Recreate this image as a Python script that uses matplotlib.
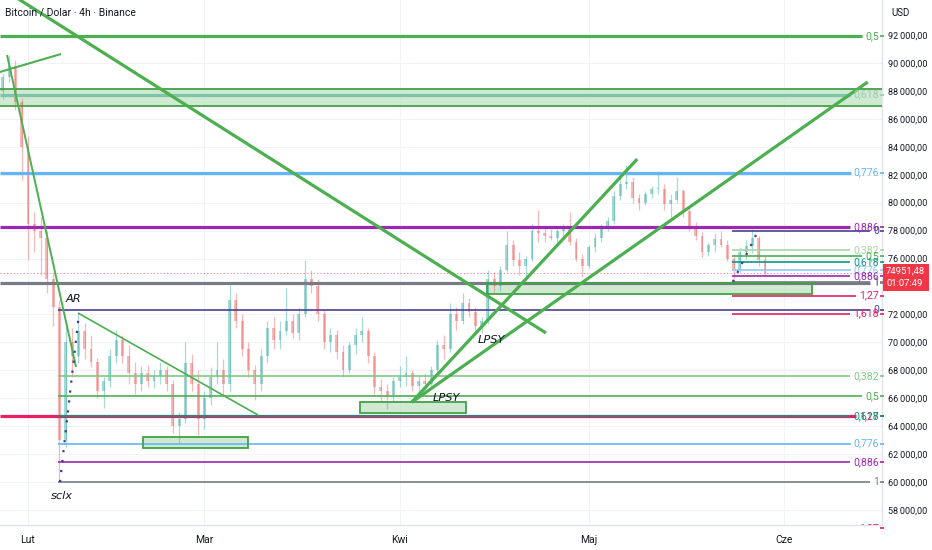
import numpy as np
import matplotlib
matplotlib.use("Agg")
import matplotlib.pyplot as plt
from matplotlib.patches import Rectangle
from matplotlib.transforms import blended_transform_factory
from matplotlib.ticker import FuncFormatter, FixedLocator

plt.rcParams['font.family'] = ['Liberation Sans Narrow', 'Roboto', 'DejaVu Sans']

# ------------------------------------------------------------------ data
# x = days since 1 Feb (daily candles), prices in thousands USD
days = list(range(-4, 118))
opens = [88.0, 89.0, 89.8, 87.2, 84.0, 78.5, 78.0, 77.5, 74.5, 72.5,
         63.0, 70.0, 69.0, 70.8, 69.5, 68.6, 66.5, 67.2, 69.0, 70.2,
         69.0, 67.8, 67.0, 67.8, 67.2, 67.6, 68.0, 67.0, 64.0, 64.5,
         68.5, 67.0, 64.5, 66.0, 67.5, 68.0, 67.0, 73.0, 71.5, 69.5,
         68.0, 67.0, 69.0, 71.0, 70.2, 70.8, 71.5, 70.7, 72.0, 74.5,
         74.0, 72.0, 70.0, 70.5, 69.3, 68.0, 69.8, 70.5, 70.8, 69.0,
         66.8, 66.5, 66.2, 67.2, 67.5, 67.8, 66.9, 67.2, 67.0, 68.0,
         69.8, 69.5, 72.0, 71.5, 72.8, 72.2, 71.2, 71.5, 74.5, 74.0,
         75.2, 77.0, 75.9, 75.5, 76.0, 78.0, 77.8, 77.6, 77.5, 78.0,
         78.2, 77.2, 76.0, 75.5, 76.8, 77.5, 78.3, 78.7, 80.5, 81.3,
         81.5, 80.3, 80.0, 80.6, 81.0, 81.0, 79.9, 80.2, 80.8, 79.4,
         78.3, 77.6, 76.5, 77.0, 77.4, 77.0, 76.0, 75.2, 76.5, 76.9,
         77.5, 75.9]
highs = [89.3, 90.6, 90.2, 87.5, 84.8, 79.3, 79.0, 78.0, 75.0, 73.0,
         71.2, 71.0, 72.1, 71.4, 70.5, 68.9, 67.5, 69.5, 70.9, 70.5,
         69.8, 68.6, 68.3, 68.4, 68.0, 68.6, 68.3, 67.3, 65.0, 70.0,
         69.2, 68.0, 66.5, 68.2, 70.0, 68.8, 74.1, 73.5, 72.0, 70.0,
         68.4, 69.5, 71.5, 71.8, 71.5, 73.9, 72.0, 72.5, 75.9, 75.2,
         74.5, 72.3, 71.0, 70.9, 69.8, 70.0, 71.0, 71.8, 71.0, 69.3,
         67.4, 67.0, 67.5, 68.3, 69.0, 68.0, 67.6, 67.8, 68.3, 70.2,
         70.5, 72.8, 72.5, 73.5, 73.2, 72.5, 71.8, 75.2, 75.0, 75.5,
         78.0, 77.3, 76.5, 76.2, 78.5, 79.5, 78.3, 78.1, 78.2, 78.5,
         79.3, 77.5, 76.3, 77.0, 77.8, 78.5, 79.0, 80.8, 81.8, 82.7,
         81.8, 80.6, 80.8, 81.2, 82.3, 81.3, 80.6, 81.8, 81.0, 79.6,
         78.6, 77.9, 77.2, 77.8, 78.0, 77.3, 76.3, 76.8, 77.3, 78.1,
         77.6, 76.2]
lows = [87.4, 88.6, 86.6, 81.6, 75.9, 76.5, 74.8, 73.5, 71.2, 60.0,
        62.5, 67.5, 68.5, 68.8, 68.2, 66.0, 65.3, 66.8, 68.5, 68.5,
        67.0, 66.3, 66.5, 66.8, 66.7, 67.0, 66.5, 63.5, 62.8, 64.2,
        66.5, 63.4, 63.8, 65.5, 67.0, 66.2, 66.5, 71.0, 69.0, 67.5,
        65.9, 66.5, 68.5, 69.5, 69.5, 70.5, 70.3, 70.2, 71.8, 73.5,
        71.5, 69.5, 69.3, 68.8, 67.5, 67.8, 69.2, 70.0, 68.5, 66.3,
        65.8, 65.2, 65.7, 66.8, 66.9, 66.5, 66.4, 66.6, 66.8, 67.8,
        68.8, 69.3, 70.9, 71.3, 71.8, 70.8, 70.7, 71.3, 73.6, 73.7,
        75.0, 75.5, 74.8, 74.7, 75.8, 77.2, 77.2, 77.3, 77.2, 77.5,
        77.0, 75.8, 74.7, 75.3, 76.5, 77.2, 78.0, 78.5, 80.2, 81.0,
        80.0, 79.5, 79.8, 80.3, 80.6, 79.5, 79.0, 80.0, 79.0, 78.0,
        77.3, 76.1, 76.2, 76.5, 76.8, 75.8, 74.5, 75.0, 76.0, 76.4,
        75.5, 74.8]
closes = [89.0, 89.8, 87.2, 84.0, 78.5, 78.0, 77.5, 74.5, 72.5, 63.0,
          70.0, 69.0, 70.8, 69.5, 68.6, 66.5, 67.2, 69.0, 70.2, 69.0,
          67.8, 67.0, 67.8, 67.2, 67.6, 68.0, 67.0, 64.0, 64.5, 68.5,
          67.0, 64.5, 66.0, 67.5, 68.0, 67.0, 73.0, 71.5, 69.5, 68.0,
          67.0, 69.0, 71.0, 70.2, 70.8, 71.5, 70.7, 72.0, 74.5, 74.0,
          72.0, 70.0, 70.5, 69.3, 68.0, 69.8, 70.5, 70.8, 69.0, 66.8,
          66.5, 66.2, 67.2, 67.5, 67.8, 66.9, 67.2, 67.0, 68.0, 69.8,
          69.5, 72.0, 71.5, 72.8, 72.2, 71.2, 71.5, 74.5, 74.0, 75.2,
          77.0, 75.9, 75.5, 76.0, 78.0, 77.8, 77.6, 77.5, 78.0, 78.2,
          77.2, 76.0, 75.5, 76.8, 77.5, 78.3, 78.7, 80.5, 81.3, 81.5,
          80.3, 80.0, 80.6, 81.0, 81.0, 79.9, 80.2, 80.8, 79.4, 78.3,
          77.6, 76.5, 77.0, 77.4, 77.0, 76.0, 75.2, 76.5, 76.9, 77.5,
          75.9, 74.95148]
last_price = 74.95148
countdown = "01:07:49"

month_ticks = [0, 28, 59, 89, 120]
month_labels = ["Lut", "Mar", "Kwi", "Maj", "Cze"]
price_ticks = [58, 60, 62, 64, 66, 68, 70, 72, 76, 78, 80, 82, 84, 86, 88, 90, 92]

# Fibonacci retracements: (price at 0, price at 1, start day, ratios, labels, colours, width)
big_fib = dict(p0=109.55, p1=74.25, start=-4.5,
               ratios=[0.5, 0.618, 0.776, 0.886, 1.0, 1.27],
               labels=["0,5", "0,618", "0,776", "0,886", "1", "1,27"],
               colors=["#4caf50", "#7ec4a8", "#64b5f6", "#9c27b0", "#787b86", "#e91e63"],
               label_colors=["#4caf50", "#9cc9b8", "#64b5f6", "#9c27b0", "#787b86", "#e91e63"],
               lw=2.3)
low_fib = dict(p0=72.3, p1=60.0, start=4.76,
               ratios=[0.0, 0.382, 0.5, 0.618, 0.776, 0.886, 1.0, 1.27],
               labels=["0", "0,382", "0,5", "0,618", "0,776", "0,886", "1", "1,27"],
               colors=["#4b3f91", "#81c784", "#4caf50", "#089981", "#64b5f6", "#9c27b0", "#787b86", "#e91e63"],
               label_colors=["#4b3f91", "#81c784", "#4caf50", "#089981", "#64b5f6", "#9c27b0", "#787b86", "#e91e63"],
               lw=1.2)
small_fib = dict(p0=78.0, p1=74.33, start=111.75,
                 ratios=[0.0, 0.382, 0.5, 0.618, 0.776, 0.886, 1.0, 1.27, 1.618],
                 labels=["0", "0,382", "0,5", "0,618", "0,776", "0,886", "1", "1,27", "1,618"],
                 colors=["#4b3f91", "#a5d6a7", "#4caf50", "#089981", "#90caf9", "#9c27b0", "#787b86", "#e91e63", "#e91e63"],
                 label_colors=["#4b3f91", "#a5d6a7", "#4caf50", "#089981", "#90caf9", "#9c27b0", "#787b86", "#e91e63", "#e91e63"],
                 lw=1.2)

# trend lines: (day0, day1), (price0, price1), width
trend_days = [(-2.5, 82.22), (-5.0, 5.24), (-3.33, 7.62), (7.94, 36.5), (60.9, 96.7), (60.9, 133.3)]
trend_prices = [(94.86, 70.67), (89.28, 90.64), (90.57, 68.24), (72.1, 64.8), (65.71, 83.12), (65.71, 88.64)]
trend_widths = [2.3, 1.5, 1.4, 1.2, 2.3, 2.3]

# dotted fib trend lines
dotted_days = [(5.08, 8.1), (111.9, 115.9)]
dotted_prices = [(60.0, 72.1), (74.33, 78.0)]

# zones: day0, day1, low, high
zone_days = [(18.25, 34.92), (52.7, 69.5), (72.86, 124.4), (-5.0, 140.0)]
zone_prices = [(62.44, 63.23), (64.94, 65.73), (73.46, 74.25), (86.92, 88.14)]

notes = ["AR", "sclx", "LPSY", "LPSY"]
note_days = [7.14, 5.4, 73.5, 66.35]
note_prices = [73.1, 59.0, 70.17, 66.02]

# ------------------------------------------------------------------ figure
fig = plt.figure(figsize=(9.32, 5.5), dpi=100)
fig.patch.set_facecolor("white")
ax = fig.add_axes([0, 25 / 550, 882 / 932, 525 / 550])
XMIN, XMAX = -4.444, 135.56
YMIN, YMAX = 56.926, 94.505
ax.set_xlim(XMIN, XMAX)
ax.set_ylim(YMIN, YMAX)

# grid & spines
ax.set_axisbelow(True)
ax.grid(True, color="#f0f3fa", lw=0.8)
for s in ["top", "left"]:
    ax.spines[s].set_visible(False)
for s in ["right", "bottom"]:
    ax.spines[s].set_color("#e0e3eb")
    ax.spines[s].set_linewidth(1.0)

ax.xaxis.set_major_locator(FixedLocator(month_ticks))
ax.set_xticklabels(month_labels)
ax.tick_params(axis="x", length=0, pad=7, labelsize=7.5, labelcolor="#131722")
ax.yaxis.tick_right()
ax.yaxis.set_major_locator(FixedLocator(price_ticks))
ax.yaxis.set_major_formatter(FuncFormatter(
    lambda v, p: f"{int(round(v * 1000)):,}".replace(",", "\u2009") + ",00"))
ax.tick_params(axis="y", length=0, pad=4.5, labelsize=6.5, labelcolor="#131722")

# zones
for (d0, d1), (lo, hi) in zip(zone_days, zone_prices):
    ax.add_patch(Rectangle((d0, lo), d1 - d0, hi - lo, facecolor="#c8e6c9", alpha=0.85,
                           edgecolor="none", zorder=1))
    ax.add_patch(Rectangle((d0, lo), d1 - d0, hi - lo, facecolor="none",
                           edgecolor="#43a047", lw=1.3, zorder=3.5))

# candles
up_c, dn_c = "#26a69a", "#ef5350"
cols = [up_c if c >= o else dn_c for o, c in zip(opens, closes)]
ax.vlines(days, lows, highs, colors=cols, lw=0.9, alpha=0.4, zorder=2)
ax.bar(days, [c - o if abs(c - o) > 0.05 else 0.05 for o, c in zip(opens, closes)],
       bottom=opens, width=0.45, color=cols, alpha=0.4, lw=0, zorder=2)

# current price dotted line
ax.axhline(last_price, color="#f23645", lw=0.8, ls=(0, (1, 2)), alpha=0.6, zorder=1.5)

# fib levels: labels first, then lines ending before the label
LABEL_X = XMIN + (879 / 882) * (XMAX - XMIN)
mark_tr = blended_transform_factory(ax.transAxes, ax.transData)
fib_items = []
for fib in (big_fib, low_fib, small_fib):
    for r, lab, col, lcol in zip(fib["ratios"], fib["labels"], fib["colors"], fib["label_colors"]):
        y = fib["p0"] + r * (fib["p1"] - fib["p0"])
        t = ax.text(LABEL_X, y, lab, ha="right", va="center", fontsize=7.6, color=lcol,
                    family=["Roboto", "DejaVu Sans"], clip_on=True, zorder=6)
        fib_items.append((t, fib["start"], y, col, fib["lw"]))
        ax.plot([1.0], [y], marker="_", ms=3, mew=1.2, color=lcol, transform=mark_tr,
                clip_on=False, zorder=6)

fig.canvas.draw()
renderer = fig.canvas.get_renderer()
inv = ax.transData.inverted()
for t, start, y, col, lw in fib_items:
    bb = t.get_window_extent(renderer)
    x_end = inv.transform((bb.x0 - 3, 0))[0]
    ax.hlines(y, start, x_end, colors=col, lw=lw, zorder=3)

# trend lines
for (d0, d1), (p0, p1), w in zip(trend_days, trend_prices, trend_widths):
    ax.plot([d0, d1], [p0, p1], color="#4caf50", lw=w, solid_capstyle="butt", zorder=5)

for (d0, d1), (p0, p1) in zip(dotted_days, dotted_prices):
    ax.plot([d0, d1], [p0, p1], color="#3f3a9a", lw=1.6, ls=(0, (1, 3.5)), zorder=5)

# annotations
for s, d, p in zip(notes, note_days, note_prices):
    ax.text(d, p, s, ha="center", va="center", fontsize=8.2, style="italic",
            family=["DejaVu Sans"], color="#131722", zorder=7)

# last price tag on price scale
ax.annotate(f"{last_price * 1000:.2f}".replace(".", ",") + "\n" + countdown,
            xy=(1.0, last_price), xycoords=mark_tr, xytext=(3, -3), textcoords="offset points",
            ha="left", va="center", fontsize=6.8, color="white", linespacing=1.35,
            annotation_clip=False,
            bbox=dict(boxstyle="square,pad=0.35", facecolor="#f23645", edgecolor="none"),
            zorder=10)

fig.text(5 / 932, 1 - 13 / 550, "Bitcoin / Dolar · 4h · Binance", ha="left", va="center",
         fontsize=7.5, color="#131722")
fig.text(891 / 932, 1 - 13 / 550, "USD", ha="left", va="center", fontsize=7, color="#131722")

fig.savefig("out.png", dpi=100, facecolor="white")
